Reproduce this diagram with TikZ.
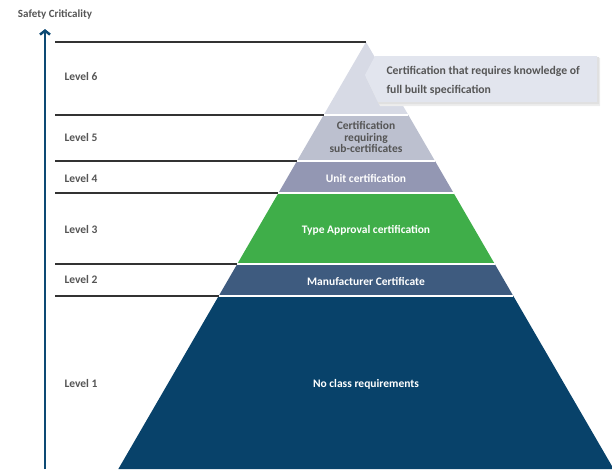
\documentclass[tikz,border=0pt]{standalone}
\usepackage{fontspec}
\setmainfont{Carlito}
\usetikzlibrary{arrows.meta}

\definecolor{axisblue}{HTML}{0D4A74}
\definecolor{lone}{HTML}{08426A}
\definecolor{ltwo}{HTML}{3E5B7F}
\definecolor{lthree}{HTML}{3FAE49}
\definecolor{lfour}{HTML}{9397B3}
\definecolor{lfive}{HTML}{BCC0CF}
\definecolor{lsix}{HTML}{D7DAE5}
\definecolor{callfill}{HTML}{E2E5EE}
\definecolor{linegray}{HTML}{333333}
\definecolor{txtgray}{HTML}{555555}

\begin{document}
\begin{tikzpicture}[x=1pt,y=-1pt,
  lvl/.style={anchor=west,text=txtgray,font=\bfseries\fontsize{11.5}{13}\selectfont},
  band/.style={text=white,align=center,font=\bfseries\fontsize{11.5}{12}\selectfont},
  lvline/.style={draw=linegray,line width=1.1pt}]
 \useasboundingbox (0,0) rectangle (612,469);
 \def\cx{366} \def\ytop{42} \def\k{0.58} \def\xs{55}

 % pyramid bands
 \foreach \ya/\yb/\col in {42/115/lsix,115/161/lfive,161/193/lfour,193/264/lthree,264/296/ltwo,296/469/lone}
  \fill[\col] ({\cx-\k*(\ya-\ytop)},\ya) -- ({\cx+\k*(\ya-\ytop)},\ya)
   -- ({\cx+\k*(\yb-\ytop)},\yb) -- ({\cx-\k*(\yb-\ytop)},\yb) -- cycle;

 % gaps and level lines
 \foreach \y in {115,161,193,264,296}
  \draw[white,line width=1.3pt] ({\cx-\k*(\y-\ytop)},\y) -- ({\cx+\k*(\y-\ytop)},\y);
 \foreach \y in {42,115,161,193,264,296}
  \draw[lvline] (\xs,\y) -- ({\cx-\k*(\y-\ytop)},\y);

 % level labels
 \foreach \n/\y in {6/77,5/138,4/179,3/230,2/280,1/383}
  \node[lvl] (lvl\n) at (61,\y) {Level \n};

 % band texts
 \node[band,font=\bfseries\fontsize{11.5}{11.5}\selectfont,text=txtgray] (bfive) at (\cx,137) {Certification\\requiring\\sub-certificates};
 \node[band] (bfour) at (\cx,178) {Unit certification};
 \node[band] (bthree) at (\cx,230) {Type Approval certification};
 \node[band] (btwo) at (\cx,281) {Manufacturer Certificate};
 \node[band] (bone) at (\cx,384) {No class requirements};

 % callout
 \fill[black!7] (376,58) -- (600,58) -- (600,106) -- (380,106) -- (366,77) -- cycle;
 \fill[black!12] (376,57) -- (599,57) -- (599,104) -- (379,104) -- (366,76) -- cycle;
 \fill[callfill] (375,56) -- (597,56) -- (597,102) -- (378,102) -- (365,75) -- cycle;
 \node[anchor=west,align=left,text=txtgray,font=\bfseries\fontsize{11.7}{19}\selectfont] (call) at (383,81)
  {Certification that requires knowledge of\\full built specification};

 % axis
 \coordinate (axbot) at (45,469);
 \coordinate (axtop) at (45,29);
 \draw[axisblue,line width=2.5pt,-{Straight Barb[length=4pt,width=10pt]}] (axbot) -- (axtop);
 \node[text=txtgray,font=\bfseries\fontsize{11}{12}\selectfont] (title) at (55,14) {Safety Criticality};

\end{tikzpicture}
\end{document}
